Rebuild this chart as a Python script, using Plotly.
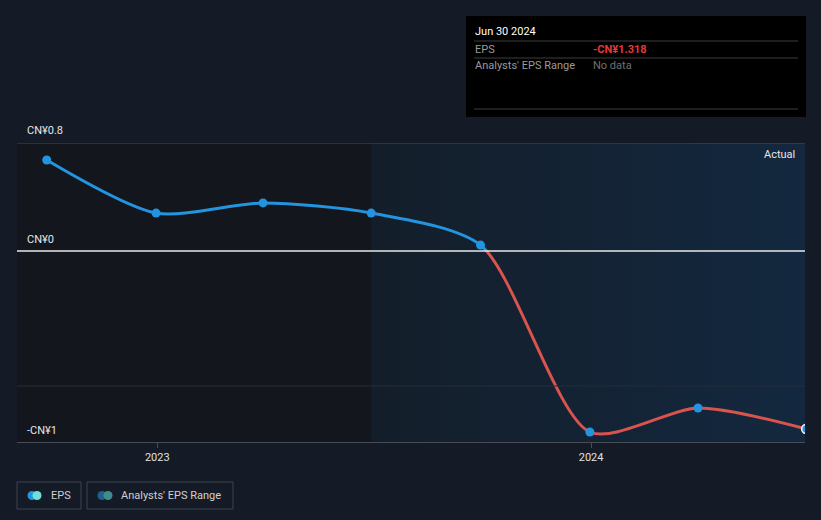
import plotly.graph_objects as go

# ---- data ----
dates = ["2022-09-30", "2022-12-31", "2023-03-31", "2023-06-30",
         "2023-09-30", "2023-12-31", "2024-03-31", "2024-06-30"]
eps = [0.674, 0.281, 0.356, 0.281, 0.044, -1.341, -1.163, -1.318]
x_ticks = ["2023-01-01", "2024-01-01"]
x_tick_labels = ["2023", "2024"]

# ---- geometry ----
W, H = 821, 520
L, R, T, B = 17, 805, 143, 442
Y_TOP, Y_BOT = 0.8, -1.4148
ZERO_FRAC = (0 - Y_BOT) / (Y_TOP - Y_BOT)
X_RANGE = ["2022-09-05", "2024-06-29"]
FORECAST_START = "2023-06-30"

def px(xp):
    return (xp - L) / (R - L)

def py(yp):
    return (B - yp) / (B - T)

BG = "#151b26"
BLUE = "#2394df"
RED = "#d9534f"
FONT = "Roboto, Noto Sans, sans-serif"
SMOOTH = 0.75

fig = go.Figure()

# background regions
fig.add_trace(go.Scatter(
    x=[FORECAST_START, X_RANGE[1], X_RANGE[1], FORECAST_START, FORECAST_START],
    y=[Y_BOT, Y_BOT, Y_TOP, Y_TOP, Y_BOT],
    mode="lines", line=dict(width=0), fill="toself",
    fillgradient=dict(type="horizontal",
                      colorscale=[[0, "#131e2a"], [1, "#13283f"]]),
    hoverinfo="skip", showlegend=False, yaxis="y"))
fig.add_trace(go.Scatter(
    x=[X_RANGE[0], FORECAST_START, FORECAST_START, X_RANGE[0], X_RANGE[0]],
    y=[Y_BOT, Y_BOT, Y_TOP, Y_TOP, Y_BOT],
    mode="lines", line=dict(width=0), fill="toself", fillcolor="#13161d",
    hoverinfo="skip", showlegend=False, yaxis="y"))

# line above zero (blue), below zero (red) via clipped subplots
fig.add_trace(go.Scatter(x=dates, y=eps, mode="lines",
                         line=dict(color=BLUE, width=3, shape="spline", smoothing=SMOOTH),
                         yaxis="y2", hoverinfo="skip", showlegend=False))
fig.add_trace(go.Scatter(x=dates, y=eps, mode="lines",
                         line=dict(color=RED, width=3, shape="spline", smoothing=SMOOTH),
                         yaxis="y3", hoverinfo="skip", showlegend=False))
# markers
lw = [0] * (len(eps) - 1) + [1.5]
fig.add_trace(go.Scatter(x=dates, y=eps, mode="markers",
                         marker=dict(color=BLUE, size=9, line=dict(color="white", width=lw)),
                         yaxis="y4", showlegend=False))

shapes = []
# gridlines
shapes.append(dict(type="line", xref="paper", yref="y", x0=0, x1=1, y0=Y_TOP, y1=Y_TOP,
                   line=dict(color="#474c57", width=1)))
shapes.append(dict(type="line", xref="paper", yref="y", x0=0, x1=1, y0=-1, y1=-1,
                   line=dict(color="#262d39", width=1)))
shapes.append(dict(type="line", xref="paper", yref="y", x0=0, x1=1, y0=0, y1=0,
                   line=dict(color="#e8e8e8", width=1.3)))

# tooltip box
shapes.append(dict(type="rect", xref="paper", yref="paper",
                   x0=px(466), x1=px(806), y0=py(117), y1=py(16),
                   fillcolor="#000000", line=dict(width=0), layer="above"))
for yy in (41, 58, 109):
    shapes.append(dict(type="line", xref="paper", yref="paper",
                       x0=px(474), x1=px(798), y0=py(yy), y1=py(yy),
                       line=dict(color="#3c3c3c", width=1), layer="above"))

# legend boxes
for x0, x1 in ((17, 81), (87, 233)):
    shapes.append(dict(type="rect", xref="paper", yref="paper",
                       x0=px(x0), x1=px(x1), y0=py(509), y1=py(482),
                       fillcolor="rgba(0,0,0,0)", line=dict(color="#3d434e", width=1)))
for cx, col in ((32, "#2394df"), (37, "#6fe0d9"), (102, "#1f5f8f"), (108, "#408c8c")):
    shapes.append(dict(type="circle", xref="paper", yref="paper",
                       x0=px(cx - 4.5), x1=px(cx + 4.5), y0=py(500), y1=py(491),
                       fillcolor=col, line=dict(width=0)))

annotations = []
def ann(text, xp, yp, color="#e6e6e6", size=11, anchor="left"):
    annotations.append(dict(text=text,
                            xref="paper", yref="paper", x=px(xp), y=py(yp),
                            xanchor=anchor, yanchor="middle", showarrow=False,
                            font=dict(color=color, size=size, family=FONT)))

ann("CN¥0.8", 25, 130)
ann("CN¥0", 25, 239)
ann("-CN¥1", 25, 430)
ann("Actual", 797, 154, anchor="right")
ann("Jun 30 2024", 473, 31, color="#ffffff", size=11)
ann("EPS", 473, 49, color="#9a9a9a")
ann("<b>-CN¥1.318</b>", 591, 49, color="#e5383b")
ann("Analysts' EPS Range", 473, 66, color="#9a9a9a")
ann("No data", 591, 66, color="#707070")
ann("EPS", 49, 495, color="#d0d0d0")
ann("Analysts' EPS Range", 119, 495, color="#d0d0d0")

fig.update_layout(
    width=W, height=H,
    margin=dict(l=L, r=W - R, t=T, b=H - B, pad=0),
    paper_bgcolor=BG, plot_bgcolor="rgba(0,0,0,0)",
    showlegend=False,
    font=dict(family=FONT, color="#e0e0e0", size=11),
    xaxis=dict(type="date", range=X_RANGE, tickvals=x_ticks, ticktext=x_tick_labels,
               showgrid=False, zeroline=False, showline=True, linecolor="#474c57",
               ticks="outside", ticklen=5, tickcolor="#474c57",
               tickfont=dict(color="#e0e0e0", size=11)),
    yaxis=dict(range=[Y_BOT, Y_TOP], domain=[0, 1], visible=False),
    yaxis2=dict(range=[0, Y_TOP], domain=[ZERO_FRAC, 1], visible=False),
    yaxis3=dict(range=[Y_BOT, 0], domain=[0, ZERO_FRAC], visible=False),
    yaxis4=dict(range=[Y_BOT, Y_TOP], domain=[0, 1], visible=False),
    shapes=shapes, annotations=annotations,
    hovermode=False,
)

fig.write_html("out.html", config={"displayModeBar": False},
               post_script="document.body.style.margin='0';")
